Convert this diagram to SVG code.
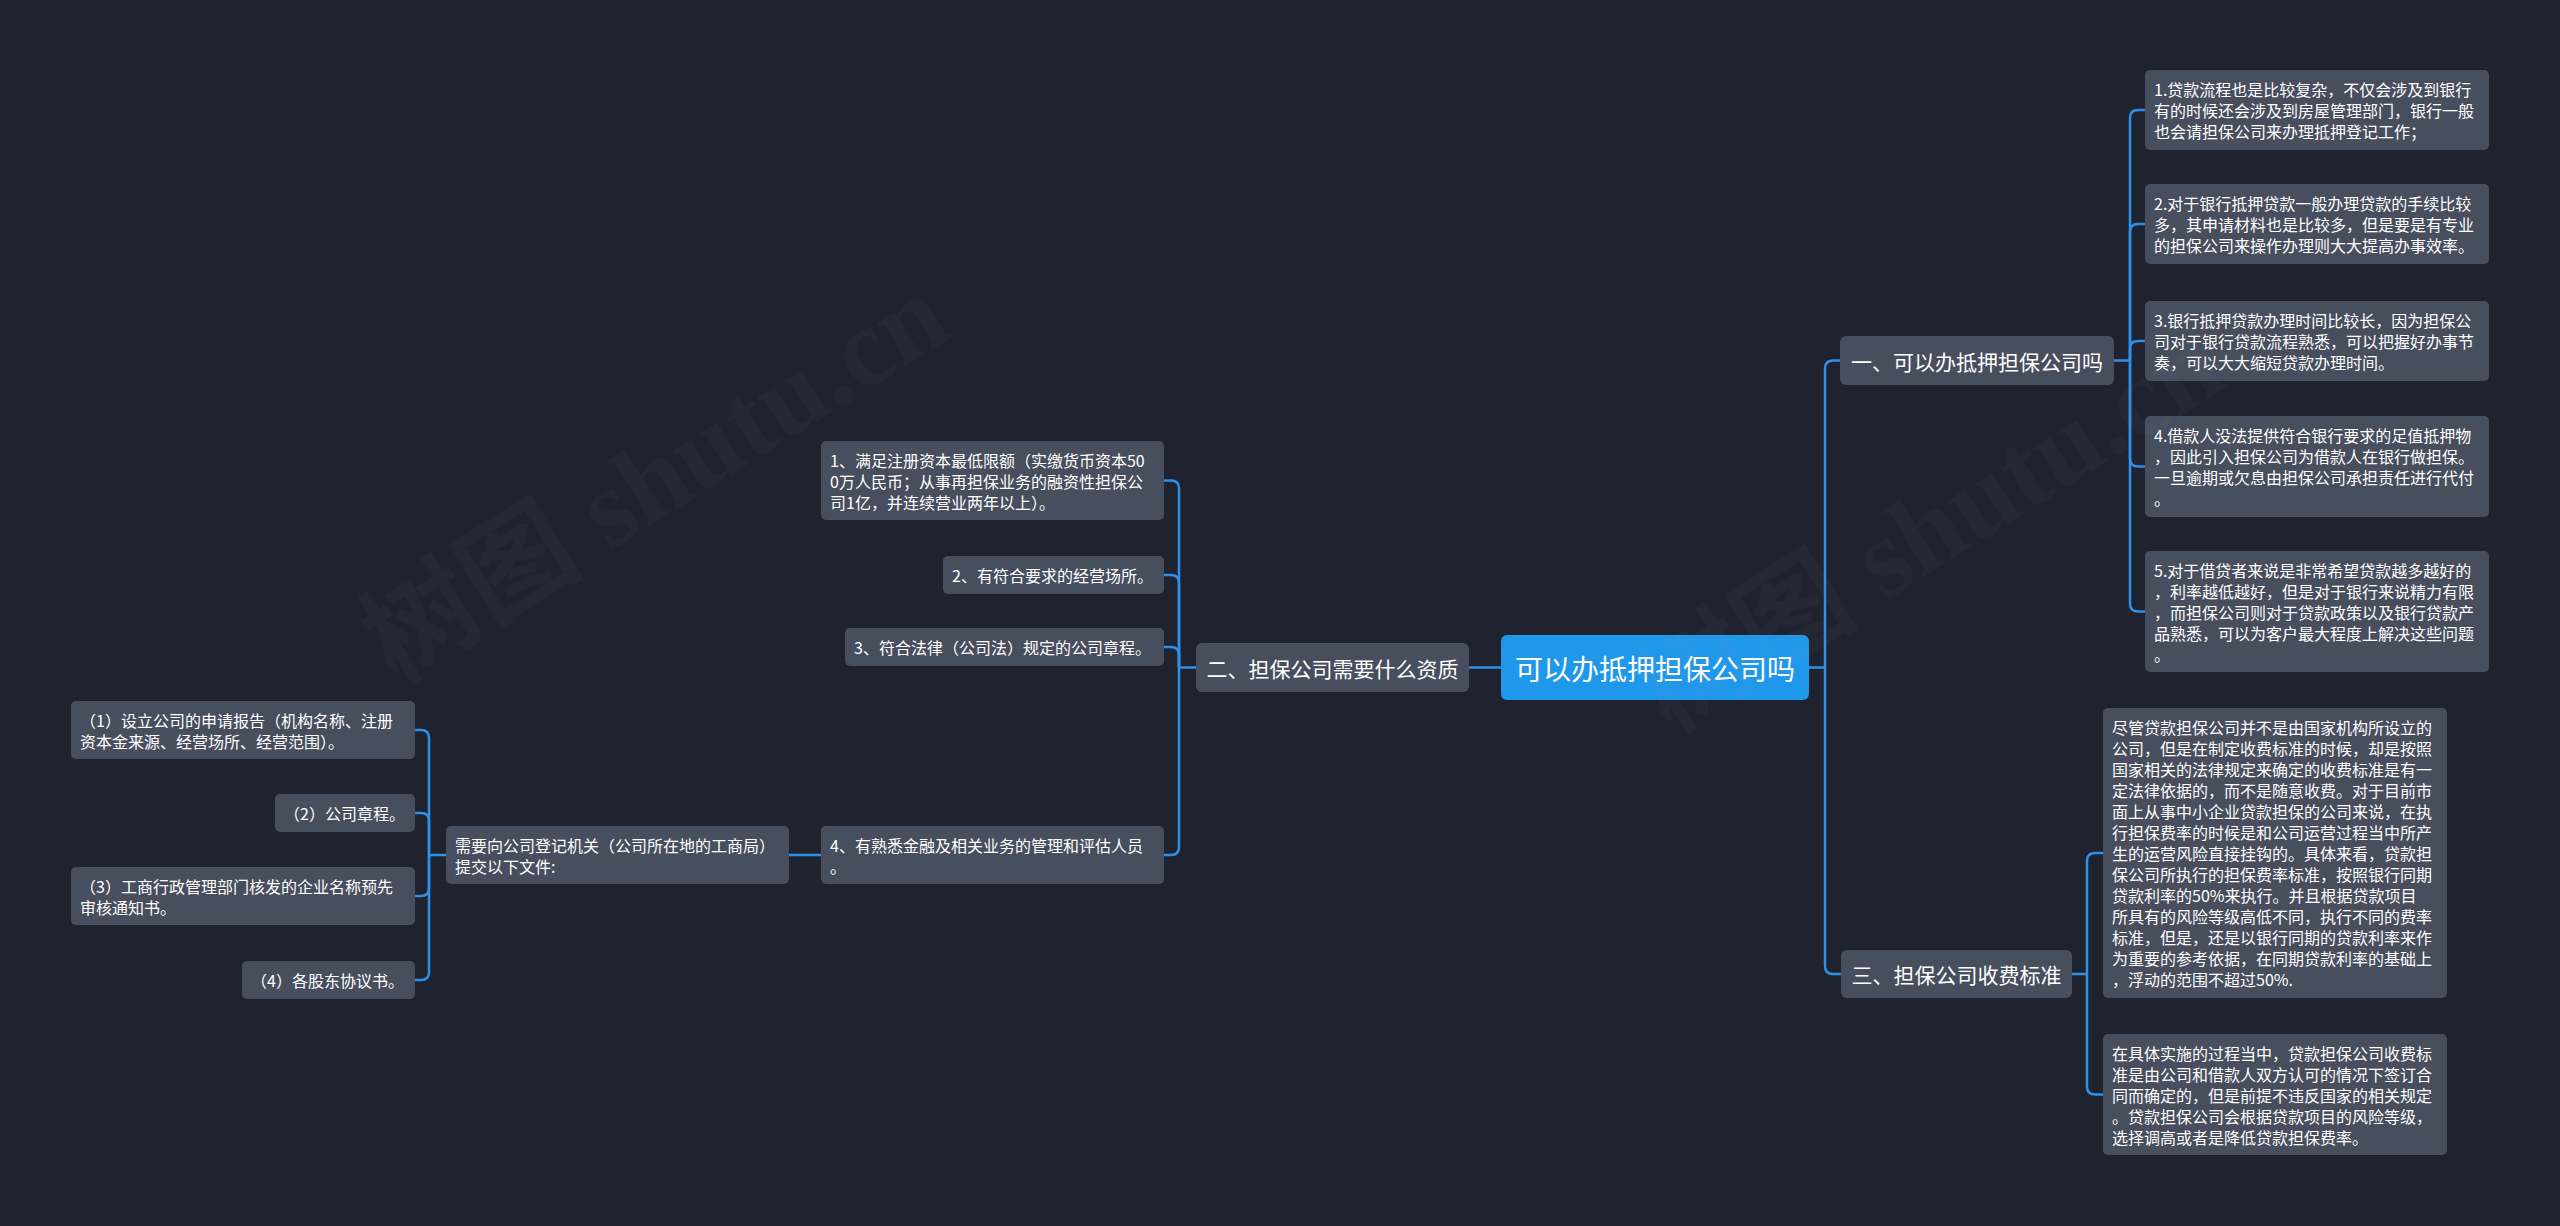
<svg xmlns="http://www.w3.org/2000/svg" width="2560" height="1226" viewBox="0 0 2560 1226">
<style>
.bg{fill:#1f2330}
.n{fill:#474e5e}
.root{fill:#1f98ec}
.t{font-family:"Noto Sans CJK SC","Noto Sans",sans-serif;font-size:16px;fill:#ffffff;dominant-baseline:central}
.tb{font-family:"Noto Sans CJK SC","Noto Sans",sans-serif;font-size:21px;fill:#ffffff;dominant-baseline:central;text-anchor:middle}
.tr{font-family:"Noto Sans CJK SC","Noto Sans",sans-serif;font-size:28px;fill:#ffffff;dominant-baseline:central;text-anchor:middle}
.c{fill:none;stroke:#2e90e6;stroke-width:2.5}
.wm{font-family:"Liberation Serif","Noto Sans CJK SC",serif;font-size:112px;fill:#8a8f9c;opacity:0.045;font-weight:bold}
</style>
<rect class="bg" x="0" y="0" width="2560" height="1226"/>

<g id="connectors">
<path class="c" d="M1809 667.5 H1825"/>
<path class="c" d="M1825 667.5 V368.5 Q1825 360.5 1833 360.5 H1840"/>
<path class="c" d="M1825 667.5 V966 Q1825 974 1833 974 H1841"/>
<path class="c" d="M1501 667.5 H1469"/>
<path class="c" d="M2114 360.5 H2130"/>
<path class="c" d="M2130 360.5 V118 Q2130 110 2138 110 H2145"/>
<path class="c" d="M2130 360.5 V232 Q2130 224 2138 224 H2145"/>
<path class="c" d="M2130 360.5 V349 Q2130 341 2138 341 H2145"/>
<path class="c" d="M2130 360.5 V458.5 Q2130 466.5 2138 466.5 H2145"/>
<path class="c" d="M2130 360.5 V603.5 Q2130 611.5 2138 611.5 H2145"/>
<path class="c" d="M2072 974 H2087"/>
<path class="c" d="M2087 974 V861 Q2087 853 2095 853 H2103"/>
<path class="c" d="M2087 974 V1086.5 Q2087 1094.5 2095 1094.5 H2103"/>
<path class="c" d="M1196 667.5 H1179"/>
<path class="c" d="M1179 667.5 V488.5 Q1179 480.5 1171 480.5 H1164"/>
<path class="c" d="M1179 667.5 V583 Q1179 575 1171 575 H1164"/>
<path class="c" d="M1179 667.5 V655 Q1179 647 1171 647 H1164"/>
<path class="c" d="M1179 667.5 V847 Q1179 855 1171 855 H1164"/>
<path class="c" d="M821 855 H789"/>
<path class="c" d="M446 855 H429"/>
<path class="c" d="M429 855 V738 Q429 730 421 730 H415"/>
<path class="c" d="M429 855 V821 Q429 813 421 813 H415"/>
<path class="c" d="M429 855 V888 Q429 896 421 896 H415"/>
<path class="c" d="M429 855 V972 Q429 980 421 980 H415"/>
</g>

<g id="root">
<rect class="root" x="1501" y="635" width="308" height="65" rx="6"/>
<text class="tr" x="1655" y="667.5">可以办抵押担保公司吗</text>
</g>

<g id="b1">
<rect class="n" x="1840" y="336" width="274" height="49" rx="6"/>
<text class="tb" x="1977" y="360.5">一、可以办抵押担保公司吗</text>
</g>
<g id="b2">
<rect class="n" x="1196" y="643" width="273" height="49" rx="6"/>
<text class="tb" x="1332.5" y="667.5">二、担保公司需要什么资质</text>
</g>
<g id="b3">
<rect class="n" x="1841" y="950" width="231" height="48" rx="6"/>
<text class="tb" x="1956.5" y="974">三、担保公司收费标准</text>
</g>

<g id="l1">
<rect class="n" x="2145" y="70" width="344" height="80" rx="5"/>
<text class="t"><tspan x="2154" y="89">1.贷款流程也是比较复杂，不仅会涉及到银行</tspan><tspan x="2154" y="110">有的时候还会涉及到房屋管理部门，银行一般</tspan><tspan x="2154" y="131">也会请担保公司来办理抵押登记工作；</tspan></text>
</g>
<g id="l2">
<rect class="n" x="2145" y="184" width="344" height="80" rx="5"/>
<text class="t"><tspan x="2154" y="203">2.对于银行抵押贷款一般办理贷款的手续比较</tspan><tspan x="2154" y="224">多，其申请材料也是比较多，但是要是有专业</tspan><tspan x="2154" y="245">的担保公司来操作办理则大大提高办事效率。</tspan></text>
</g>
<g id="l3">
<rect class="n" x="2145" y="301" width="344" height="80" rx="5"/>
<text class="t"><tspan x="2154" y="320">3.银行抵押贷款办理时间比较长，因为担保公</tspan><tspan x="2154" y="341">司对于银行贷款流程熟悉，可以把握好办事节</tspan><tspan x="2154" y="362">奏，可以大大缩短贷款办理时间。</tspan></text>
</g>
<g id="l4">
<rect class="n" x="2145" y="416" width="344" height="101" rx="5"/>
<text class="t"><tspan x="2154" y="435">4.借款人没法提供符合银行要求的足值抵押物</tspan><tspan x="2154" y="456">，因此引入担保公司为借款人在银行做担保。</tspan><tspan x="2154" y="477">一旦逾期或欠息由担保公司承担责任进行代付</tspan><tspan x="2154" y="498">。</tspan></text>
</g>
<g id="l5">
<rect class="n" x="2145" y="551" width="344" height="121" rx="5"/>
<text class="t"><tspan x="2154" y="570">5.对于借贷者来说是非常希望贷款越多越好的</tspan><tspan x="2154" y="591">，利率越低越好，但是对于银行来说精力有限</tspan><tspan x="2154" y="612">，而担保公司则对于贷款政策以及银行贷款产</tspan><tspan x="2154" y="633">品熟悉，可以为客户最大程度上解决这些问题</tspan><tspan x="2154" y="654">。</tspan></text>
</g>

<g id="r1">
<rect class="n" x="2103" y="708" width="344" height="290" rx="5"/>
<text class="t"><tspan x="2112" y="727">尽管贷款担保公司并不是由国家机构所设立的</tspan><tspan x="2112" y="748">公司，但是在制定收费标准的时候，却是按照</tspan><tspan x="2112" y="769">国家相关的法律规定来确定的收费标准是有一</tspan><tspan x="2112" y="790">定法律依据的，而不是随意收费。对于目前市</tspan><tspan x="2112" y="811">面上从事中小企业贷款担保的公司来说，在执</tspan><tspan x="2112" y="832">行担保费率的时候是和公司运营过程当中所产</tspan><tspan x="2112" y="853">生的运营风险直接挂钩的。具体来看，贷款担</tspan><tspan x="2112" y="874">保公司所执行的担保费率标准，按照银行同期</tspan><tspan x="2112" y="895">贷款利率的50%来执行。并且根据贷款项目</tspan><tspan x="2112" y="916">所具有的风险等级高低不同，执行不同的费率</tspan><tspan x="2112" y="937">标准，但是，还是以银行同期的贷款利率来作</tspan><tspan x="2112" y="958">为重要的参考依据，在同期贷款利率的基础上</tspan><tspan x="2112" y="979">，浮动的范围不超过50%.</tspan></text>
</g>
<g id="r2">
<rect class="n" x="2103" y="1034" width="344" height="121" rx="5"/>
<text class="t"><tspan x="2112" y="1053">在具体实施的过程当中，贷款担保公司收费标</tspan><tspan x="2112" y="1074">准是由公司和借款人双方认可的情况下签订合</tspan><tspan x="2112" y="1095">同而确定的，但是前提不违反国家的相关规定</tspan><tspan x="2112" y="1116">。贷款担保公司会根据贷款项目的风险等级，</tspan><tspan x="2112" y="1137">选择调高或者是降低贷款担保费率。</tspan></text>
</g>

<g id="c1">
<rect class="n" x="821" y="441" width="343" height="79" rx="5"/>
<text class="t"><tspan x="830" y="460">1、满足注册资本最低限额（实缴货币资本50</tspan><tspan x="830" y="481">0万人民币；从事再担保业务的融资性担保公</tspan><tspan x="830" y="502">司1亿，并连续营业两年以上）。</tspan></text>
</g>
<g id="c2">
<rect class="n" x="943" y="556" width="221" height="38" rx="5"/>
<text class="t"><tspan x="952" y="575">2、有符合要求的经营场所。</tspan></text>
</g>
<g id="c3">
<rect class="n" x="845" y="628" width="319" height="38" rx="5"/>
<text class="t"><tspan x="854" y="647">3、符合法律（公司法）规定的公司章程。</tspan></text>
</g>
<g id="c4">
<rect class="n" x="821" y="826" width="343" height="58" rx="5"/>
<text class="t"><tspan x="830" y="845">4、有熟悉金融及相关业务的管理和评估人员</tspan><tspan x="830" y="866">。</tspan></text>
</g>
<g id="d">
<rect class="n" x="446" y="826" width="343" height="58" rx="5"/>
<text class="t"><tspan x="455" y="845">需要向公司登记机关（公司所在地的工商局）</tspan><tspan x="455" y="866">提交以下文件:</tspan></text>
</g>
<g id="e1">
<rect class="n" x="71" y="701" width="344" height="58" rx="5"/>
<text class="t"><tspan x="80" y="720">（1）设立公司的申请报告（机构名称、注册</tspan><tspan x="80" y="741">资本金来源、经营场所、经营范围）。</tspan></text>
</g>
<g id="e2">
<rect class="n" x="275" y="794" width="140" height="38" rx="5"/>
<text class="t"><tspan x="284" y="813">（2）公司章程。</tspan></text>
</g>
<g id="e3">
<rect class="n" x="71" y="867" width="344" height="58" rx="5"/>
<text class="t"><tspan x="80" y="886">（3）工商行政管理部门核发的企业名称预先</tspan><tspan x="80" y="907">审核通知书。</tspan></text>
</g>
<g id="e4">
<rect class="n" x="242" y="961" width="173" height="38" rx="5"/>
<text class="t"><tspan x="251" y="980">（4）各股东协议书。</tspan></text>
</g>

<g id="watermarks">
<text class="wm" transform="translate(395 685) rotate(-32)">树图 shutu.cn</text>
<text class="wm" transform="translate(1670 735) rotate(-32)">树图 shutu.cn</text>
</g>
</svg>
